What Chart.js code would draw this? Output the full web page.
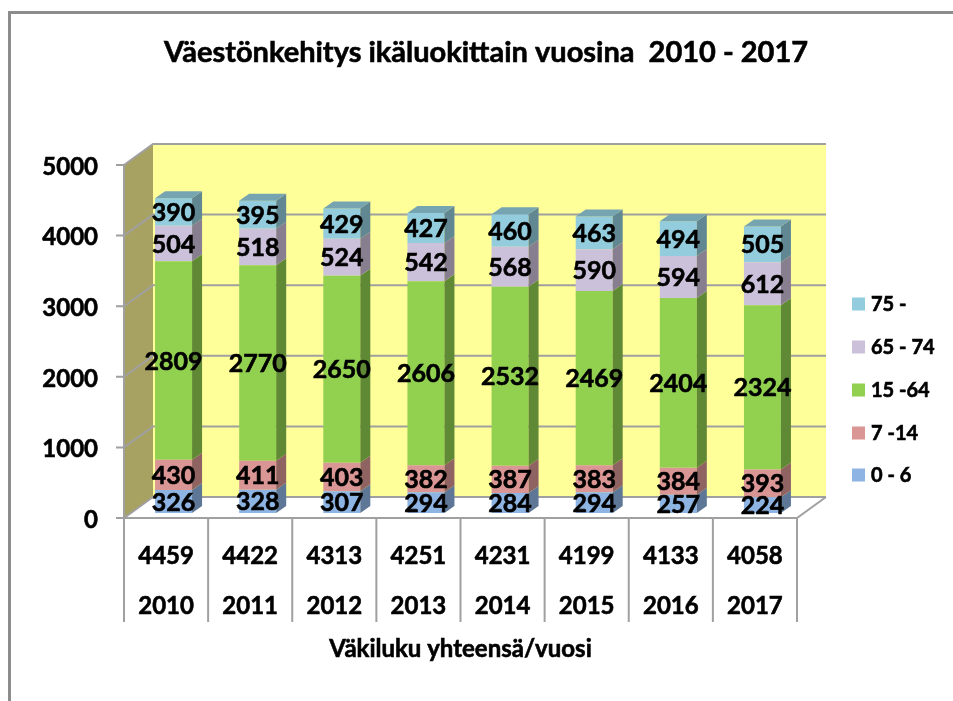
<!DOCTYPE html>
<html><head><meta charset="utf-8">
<script src="https://cdn.jsdelivr.net/npm/chart.js@4.4.0/dist/chart.umd.min.js"></script>
<style>html,body{margin:0;padding:0;background:#fff;overflow:hidden}canvas{display:block}</style>
</head><body>
<canvas id="c" width="953" height="701"></canvas>
<script>
// ---- data ----
const years = ['2010','2011','2012','2013','2014','2015','2016','2017'];
const totals = ['4459','4422','4313','4251','4231','4199','4133','4058'];
const ageGroups = ['0 - 6','7 -14','15 -64','65 - 74','75 -'];
const v0_6   = [326,328,307,294,284,294,257,224];
const v7_14  = [430,411,403,382,387,383,384,393];
const v15_64 = [2809,2770,2650,2606,2532,2469,2404,2324];
const v65_74 = [504,518,524,542,568,590,594,612];
const v75    = [390,395,429,427,460,463,494,505];
const yTicks = [0,1000,2000,3000,4000,5000];
const chartTitle = 'Väestönkehitys ikäluokittain vuosina  2010 - 2017';
const xTitle = 'Väkiluku yhteensä/vuosi';

// ---- styles ----
const colors = ['#8EB4E3','#D99694','#92D050','#CCC1DA','#93CDDD'];
const FONT = 'Lato, "Open Sans", sans-serif';
const FRONT_DX = -7.5, FRONT_DY = 5;   // front plane offset from bar plane
const DEPTH_X = 29, DEPTH_Y = -21;     // wall depth
const BAR_DX = 10, BAR_DY = -7;        // bar depth
const GRID = '#A0A0A0';

function shade(hex, f) {
  const n = parseInt(hex.slice(1), 16);
  const r = Math.round(((n >> 16) & 255) * f), g = Math.round(((n >> 8) & 255) * f), b = Math.round((n & 255) * f);
  return 'rgb(' + r + ',' + g + ',' + b + ')';
}
// text drawn with a light stroke to mimic the heavier original typeface
function boldText(ctx, t, x, y) {
  ctx.lineWidth = 0.6; ctx.strokeStyle = ctx.fillStyle;
  ctx.strokeText(t, x, y); ctx.fillText(t, x, y);
}

const deco = {
  id: 'deco',
  beforeDatasetsDraw(chart) {
    const ctx = chart.ctx, ca = chart.chartArea, ys = chart.scales.y;
    const FL = ca.left + FRONT_DX, FR = ca.right + FRONT_DX;
    const FB = ys.getPixelForValue(0) + FRONT_DY, FT = ys.getPixelForValue(5000) + FRONT_DY;
    const BL = FL + DEPTH_X, BR = FR + DEPTH_X;
    ctx.save();
    // outer frame
    ctx.strokeStyle = '#8C8C8C'; ctx.lineWidth = 3;
    ctx.strokeRect(9.5, 12.5, 1000, 800);
    // back wall
    ctx.fillStyle = '#FFFF99';
    ctx.fillRect(BL, FT + DEPTH_Y, BR - BL, FB - FT);
    // side wall
    ctx.fillStyle = '#A8A262';
    ctx.beginPath();
    ctx.moveTo(FL, FB); ctx.lineTo(FL, FT); ctx.lineTo(BL, FT + DEPTH_Y); ctx.lineTo(BL, FB + DEPTH_Y); ctx.closePath();
    ctx.fill();
    // floor
    ctx.fillStyle = '#FFFFFF';
    ctx.beginPath();
    ctx.moveTo(FL, FB); ctx.lineTo(FR, FB); ctx.lineTo(BR, FB + DEPTH_Y); ctx.lineTo(BL, FB + DEPTH_Y); ctx.closePath();
    ctx.fill();
    ctx.strokeStyle = GRID; ctx.lineWidth = 2;
    ctx.beginPath();
    ctx.moveTo(FL, FB); ctx.lineTo(FR, FB); ctx.lineTo(BR, FB + DEPTH_Y);
    ctx.stroke();
    // gridlines
    yTicks.forEach(v => {
      const yf = ys.getPixelForValue(v) + FRONT_DY;
      ctx.beginPath();
      ctx.moveTo(FL - 8, yf); ctx.lineTo(FL, yf); ctx.lineTo(BL, yf + DEPTH_Y); ctx.lineTo(BR, yf + DEPTH_Y);
      ctx.stroke();
    });
    // axis line
    ctx.beginPath(); ctx.moveTo(FL, FT); ctx.lineTo(FL, FB); ctx.stroke();
    // table lines
    const n = years.length, cw = (FR - FL) / n;
    ctx.beginPath();
    for (let i = 0; i <= n; i++) {
      const x = FL + i * cw;
      ctx.moveTo(x, FB); ctx.lineTo(x, FB + 104);
    }
    ctx.stroke();
    // tick labels
    ctx.fillStyle = '#000';
    ctx.font = 'bold 24px ' + FONT;
    ctx.textAlign = 'right'; ctx.textBaseline = 'middle';
    yTicks.forEach(v => {
      const yf = ys.getPixelForValue(v) + FRONT_DY;
      boldText(ctx, String(v), FL - 26, yf + 2);
    });
    ctx.textAlign = 'center';
    ctx.font = 'bold 24px ' + FONT;
    for (let i = 0; i < n; i++) {
      const cx = FL + (i + 0.5) * cw;
      boldText(ctx, totals[i], cx, FB + 38);
      boldText(ctx, years[i], cx, FB + 88);
    }
    // x axis title
    ctx.font = 'bold 24px ' + FONT;
    boldText(ctx, xTitle, (FL + FR) / 2, FB + 131);
    // chart title
    ctx.font = 'bold 26px ' + FONT;
    const w = ctx.measureText(chartTitle).width;
    const fs = 26 * 645 / w;
    ctx.font = 'bold ' + fs.toFixed(1) + 'px ' + FONT;
    ctx.textBaseline = 'alphabetic';
    boldText(ctx, chartTitle, 486, 62);
    // legend
    ctx.font = 'bold 20px ' + FONT;
    ctx.textAlign = 'left'; ctx.textBaseline = 'middle';
    const legY = [475, 433, 390, 347, 304];
    ageGroups.forEach((g, i) => {
      ctx.fillStyle = colors[i];
      ctx.fillRect(852, legY[i] - 6.5, 13, 13);
      ctx.fillStyle = '#000';
      boldText(ctx, g, 871, legY[i] + 1);
    });
    ctx.restore();
  },
  afterDatasetsDraw(chart) {
    const ctx = chart.ctx;
    ctx.save();
    const nds = chart.data.datasets.length;
    for (let d = 0; d < nds; d++) {
      const meta = chart.getDatasetMeta(d);
      meta.data.forEach(el => {
        const p = el.getProps(['x', 'y', 'base', 'width'], true);
        const r = p.x + p.width / 2, l = p.x - p.width / 2;
        ctx.fillStyle = shade(colors[d], 0.66);
        ctx.beginPath();
        ctx.moveTo(r, p.y); ctx.lineTo(r + BAR_DX, p.y + BAR_DY); ctx.lineTo(r + BAR_DX, p.base + BAR_DY); ctx.lineTo(r, p.base);
        ctx.closePath(); ctx.fill();
        if (d === nds - 1) {
          ctx.fillStyle = shade(colors[d], 0.8);
          ctx.beginPath();
          ctx.moveTo(l, p.y); ctx.lineTo(l + BAR_DX, p.y + BAR_DY); ctx.lineTo(r + BAR_DX, p.y + BAR_DY); ctx.lineTo(r, p.y);
          ctx.closePath(); ctx.fill();
        }
      });
    }
    ctx.fillStyle = '#000';
    ctx.font = 'bold 25px ' + FONT;
    ctx.textAlign = 'center'; ctx.textBaseline = 'middle';
    for (let d = 0; d < nds; d++) {
      const meta = chart.getDatasetMeta(d);
      const vals = chart.data.datasets[d].data;
      meta.data.forEach((el, i) => {
        const p = el.getProps(['x', 'y', 'base'], true);
        boldText(ctx, String(vals[i]), p.x, (p.y + p.base) / 2 + 1);
      });
    }
    ctx.restore();
  }
};

const seriesValues = [v0_6, v7_14, v15_64, v65_74, v75];

function build() {
  new Chart(document.getElementById('c'), {
    type: 'bar',
    data: {
      labels: years,
      datasets: ageGroups.map((g, i) => ({
        label: g, data: seriesValues[i], backgroundColor: colors[i], borderWidth: 0,
        barPercentage: 0.44, categoryPercentage: 1
      }))
    },
    options: {
      responsive: false, animation: false, devicePixelRatio: 1,
      layout: { padding: { left: 131.5, right: 148.5, top: 160, bottom: 188 } },
      scales: {
        x: { stacked: true, display: false },
        y: { stacked: true, display: false, min: 0, max: 5000 }
      },
      plugins: { legend: { display: false }, tooltip: { enabled: false }, title: { display: false } }
    },
    plugins: [deco]
  });
}
if (document.fonts && document.fonts.load) {
  Promise.all([document.fonts.load('bold 20px Lato')]).then(build, build);
} else build();
</script>
</body></html>
